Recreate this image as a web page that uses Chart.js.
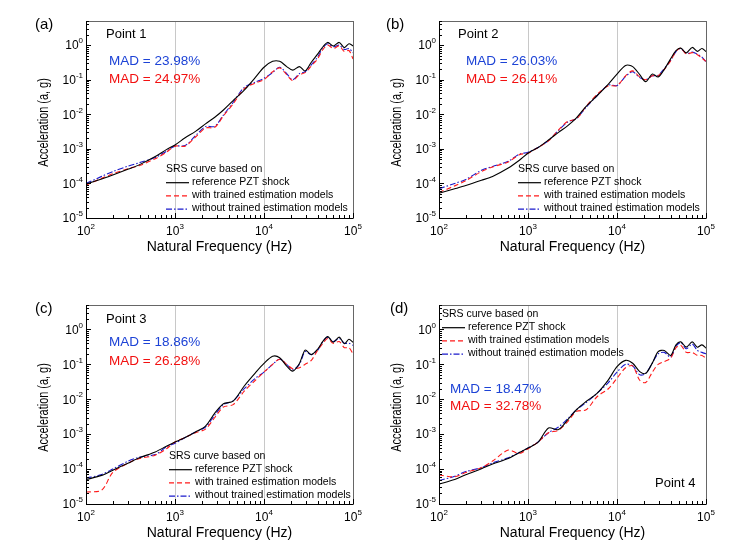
<!DOCTYPE html>
<html>
<head>
<meta charset="utf-8">
<script src="https://cdn.jsdelivr.net/npm/chart.js@4.4.1/dist/chart.umd.min.js"></script>
<style>
  body { margin: 0; background: #fff; }
  #wrap { position: relative; width: 733px; height: 552px; background: #fff; }
  #wrap canvas { position: absolute; }
</style>
</head>
<body>
<div id="wrap">
  <canvas id="panelA" width="366" height="276" style="left:0;top:0"></canvas>
  <canvas id="panelB" width="366" height="276" style="left:367px;top:0"></canvas>
  <canvas id="panelC" width="366" height="276" style="left:0;top:276px"></canvas>
  <canvas id="panelD" width="366" height="276" style="left:367px;top:276px"></canvas>
</div>
<script>
// --- data ---
const freqHz = [100, 150, 200, 300, 400, 600, 800, 1000, 1300, 1700, 2200, 2800, 3500, 4500, 6000, 8000,
                10000, 12500, 15000, 18000, 21000, 25000, 29000, 34000, 40000, 46000, 52000, 60000, 70000, 80000, 90000, 100000];

const seriesLabels = ['reference PZT shock', 'with trained estimation models', 'without trained estimation models'];
const legendTitle = 'SRS curve based on';
const xTickExp = [2, 3, 4, 5];
const yTickExp = [-5, -4, -3, -2, -1, 0];

const refP1 = [9.5e-5, 1.35e-4, 1.75e-4, 2.6e-4, 3.5e-4, 6e-4, 9.5e-4, 1.3e-3, 2.1e-3, 3.2e-3, 5.3e-3, 8.2e-3, 1.33e-2, 2.5e-2, 5e-2, 0.117,
               0.23, 0.34, 0.34, 0.24, 0.19, 0.24, 0.18, 0.32, 0.55, 0.9, 1.2, 0.95, 1.2, 0.85, 1.1, 0.95];
const withP1 = [9e-5, 1.4e-4, 1.9e-4, 2.7e-4, 3.3e-4, 5.2e-4, 8e-4, 1.2e-3, 1.2e-3, 2.2e-3, 4e-3, 4.2e-3, 9e-3, 2e-2, 5.5e-2, 8e-2,
                0.1, 0.17, 0.22, 0.14, 0.095, 0.14, 0.16, 0.25, 0.4, 0.75, 1.0, 0.8, 0.95, 0.65, 0.7, 0.4];
const withoutP1 = [1e-4, 1.6e-4, 2.2e-4, 3.2e-4, 4e-4, 5.6e-4, 8.5e-4, 1.2e-3, 1.25e-3, 2.4e-3, 4.4e-3, 4.5e-3, 9.5e-3, 2.2e-2, 6e-2, 8.5e-2,
                   0.11, 0.16, 0.23, 0.15, 0.1, 0.15, 0.17, 0.27, 0.45, 0.85, 1.1, 0.9, 1.0, 0.75, 0.8, 0.6];

const refP2 = [5.2e-5, 7e-5, 8.7e-5, 1.23e-4, 1.6e-4, 2.8e-4, 4.7e-4, 7.5e-4, 1.1e-3, 1.8e-3, 3e-3, 4.7e-3, 7.9e-3, 1.7e-2, 3.5e-2, 7.5e-2,
               0.146, 0.26, 0.24, 0.14, 0.088, 0.146, 0.12, 0.2, 0.4, 0.69, 0.82, 0.6, 0.86, 0.66, 0.8, 0.65];
const withP2 = [5.5e-5, 8.5e-5, 1.2e-4, 2.2e-4, 3e-4, 4.2e-4, 6.8e-4, 7.5e-4, 1.1e-3, 1.7e-3, 3.5e-3, 6.3e-3, 7.3e-3, 1.7e-2, 3.8e-2, 6.7e-2,
                6.7e-2, 0.13, 0.18, 0.12, 0.1, 0.13, 0.13, 0.2, 0.35, 0.66, 0.82, 0.55, 0.61, 0.53, 0.42, 0.34];
const withoutP2 = [7e-5, 1e-4, 1.3e-4, 2.4e-4, 3.1e-4, 4.4e-4, 7e-4, 8e-4, 1.1e-3, 1.75e-3, 3.4e-3, 6e-3, 7.5e-3, 1.6e-2, 3.5e-2, 7e-2,
                   6.8e-2, 0.125, 0.17, 0.115, 0.1, 0.13, 0.135, 0.21, 0.36, 0.65, 0.8, 0.57, 0.63, 0.55, 0.45, 0.33];

const refP3 = [5e-5, 6.6e-5, 9.3e-5, 1.5e-4, 2.1e-4, 3.1e-4, 4.5e-4, 6e-4, 8e-4, 1.15e-3, 1.7e-3, 4e-3, 7.4e-3, 8.8e-3, 2.4e-2, 5.7e-2,
               0.106, 0.17, 0.155, 0.089, 0.064, 0.106, 0.255, 0.19, 0.27, 0.46, 0.62, 0.43, 0.6, 0.39, 0.52, 0.43];
const withP3 = [2.2e-5, 2.5e-5, 8e-5, 1.5e-4, 2e-4, 2.5e-4, 3.8e-4, 6e-4, 8e-4, 1.1e-3, 1.4e-3, 3e-3, 6e-3, 7e-3, 1.7e-2, 3.5e-2,
                6e-2, 0.1, 0.14, 0.1, 0.075, 0.08, 0.1, 0.13, 0.25, 0.4, 0.55, 0.4, 0.45, 0.3, 0.3, 0.2];
const withoutP3 = [5.5e-5, 7e-5, 1e-4, 1.7e-4, 2.2e-4, 2.6e-4, 4.3e-4, 5.5e-4, 8e-4, 1.15e-3, 1.6e-3, 3.5e-3, 7e-3, 9e-3, 2e-2, 4e-2,
                   6e-2, 0.1, 0.14, 0.1, 0.07, 0.1, 0.23, 0.19, 0.25, 0.45, 0.6, 0.45, 0.55, 0.4, 0.4, 0.35];

const refP4 = [3.7e-5, 5e-5, 6.9e-5, 1.02e-4, 1.4e-4, 2e-4, 3e-4, 4e-4, 5.9e-4, 1.5e-3, 1.35e-3, 2.6e-3, 5e-3, 8.6e-3, 1.5e-2, 3.6e-2,
               8.6e-2, 0.13, 0.107, 0.062, 0.055, 0.11, 0.23, 0.25, 0.18, 0.36, 0.44, 0.31, 0.44, 0.31, 0.36, 0.29];
const withP4 = [6.8e-5, 6e-5, 8e-5, 1.1e-4, 1.7e-4, 3.5e-4, 2.8e-4, 3.8e-4, 6e-4, 1.1e-3, 1.3e-3, 2.3e-3, 4.5e-3, 5e-3, 1.2e-2, 2e-2,
                4e-2, 8e-2, 9e-2, 3.5e-2, 3e-2, 6e-2, 0.1, 0.12, 0.15, 0.3, 0.35, 0.22, 0.22, 0.18, 0.18, 0.15];
const withoutP4 = [4.7e-5, 6.2e-5, 8.5e-5, 1.1e-4, 1.5e-4, 2.1e-4, 3e-4, 4e-4, 6e-4, 1.1e-3, 1.6e-3, 2.8e-3, 5e-3, 8e-3, 1.5e-2, 3e-2,
                   6e-2, 0.1, 0.09, 0.05, 0.055, 0.11, 0.2, 0.22, 0.16, 0.33, 0.42, 0.28, 0.38, 0.25, 0.22, 0.2];

const madWith = ['23.98', '26.03', '18.86', '18.47'];
const madWithout = ['24.97', '26.41', '26.28', '32.78'];

// --- drawing helpers ---
const FONT = "'Liberation Sans', Arial, sans-serif";

function drawPow(ctx, exp, x, y, align) {
    ctx.font = '12px ' + FONT;
    const wb = ctx.measureText('10').width;
    ctx.font = '8px ' + FONT;
    const we = ctx.measureText(String(exp)).width;
    const x0 = align === 'right' ? x - wb - we : x - (wb + we) / 2;
    ctx.textAlign = 'left';
    ctx.textBaseline = 'middle';
    ctx.font = '12px ' + FONT;
    ctx.fillText('10', x0, y);
    ctx.font = '8px ' + FONT;
    ctx.fillText(String(exp), x0 + wb, y - 5);
}

function makePanel(canvasId, p) {
    const mk = (label, values, color, dash) => ({
        label: label,
        data: freqHz.map((f, i) => ({ x: f, y: values[i] })),
        borderColor: color, borderWidth: 1.1, borderDash: dash,
        pointRadius: 0, tension: 0.3, fill: false
    });

    const decor = {
        id: 'srsDecor',
        beforeDatasetsDraw(chart) {
            const ctx = chart.ctx, a = chart.chartArea, xs = chart.scales.x;
            ctx.save();
            ctx.strokeStyle = '#c8c8c8';
            ctx.lineWidth = 1;
            [1e3, 1e4].forEach(v => {
                const px = Math.round(xs.getPixelForValue(v)) + 0.5;
                ctx.beginPath(); ctx.moveTo(px, a.top); ctx.lineTo(px, a.bottom); ctx.stroke();
            });
            ctx.restore();
        },
        afterDraw(chart) {
            const ctx = chart.ctx, a = chart.chartArea, xs = chart.scales.x, ys = chart.scales.y;
            ctx.save();
            ctx.fillStyle = '#000';

            // frame
            ctx.lineWidth = 1;
            ctx.strokeStyle = '#666';
            ctx.strokeRect(a.left + 0.5, a.top + 0.5, a.right - a.left, a.bottom - a.top);
            ctx.strokeStyle = '#000';
            ctx.beginPath();
            ctx.moveTo(a.left + 0.5, a.top); ctx.lineTo(a.left + 0.5, a.bottom + 0.5); ctx.lineTo(a.right, a.bottom + 0.5);
            ctx.stroke();

            // inward ticks, log minors
            ctx.beginPath();
            xTickExp.forEach(e => {
                for (let k = 1; k < 10; k++) {
                    const v = k * Math.pow(10, e);
                    if (v > 1e5 * 1.0001) break;
                    const px = Math.round(xs.getPixelForValue(v)) + 0.5;
                    ctx.moveTo(px, a.bottom); ctx.lineTo(px, a.bottom - (k === 1 ? 5 : 3));
                }
            });
            yTickExp.forEach(e => {
                for (let k = 1; k < 10; k++) {
                    const v = k * Math.pow(10, e);
                    if (v > ys.max) break;
                    const py = Math.round(ys.getPixelForValue(v)) + 0.5;
                    ctx.moveTo(a.left, py); ctx.lineTo(a.left + (k === 1 ? 5 : 3), py);
                }
            });
            ctx.stroke();

            // tick labels
            xTickExp.forEach(e => drawPow(ctx, e, xs.getPixelForValue(Math.pow(10, e)), a.bottom + 14, 'center'));
            yTickExp.forEach(e => drawPow(ctx, e, a.left - 3, ys.getPixelForValue(Math.pow(10, e)) + 1, 'right'));

            // axis titles
            ctx.font = '14px ' + FONT;
            ctx.textAlign = 'center';
            ctx.textBaseline = 'middle';
            ctx.fillText('Natural Frequency (Hz)', (a.left + a.right) / 2, a.bottom + 29);
            ctx.save();
            ctx.translate(a.left - 42, (a.top + a.bottom) / 2 + 3);
            ctx.rotate(-Math.PI / 2);
            ctx.scale(0.78, 1);
            ctx.fillText('Acceleration (a, g)', 0, 0);
            ctx.restore();

            // panel letter, point name, MAD
            ctx.textAlign = 'left';
            ctx.font = '15px ' + FONT;
            ctx.fillText(p.letter, p.letterAt[0], p.letterAt[1]);
            ctx.font = '13px ' + FONT;
            ctx.fillText(p.point, p.pointAt[0], p.pointAt[1]);
            ctx.font = '13.5px ' + FONT;
            ctx.fillStyle = '#1d43d6';
            ctx.fillText('MAD = ' + madWith[p.idx] + '%', p.madAt[0], p.madAt[1]);
            ctx.fillStyle = '#f21010';
            ctx.fillText('MAD = ' + madWithout[p.idx] + '%', p.madAt[0], p.madAt[1] + p.madGap);

            // legend
            const lx = p.legendAt[0], ly = p.legendAt[1];
            ctx.font = '10.5px ' + FONT;
            ctx.fillStyle = '#000';
            ctx.fillText(legendTitle, lx, ly);
            chart.data.datasets.forEach((ds, i) => {
                const ry = ly + 13.2 * (i + 1);
                ctx.save();
                ctx.strokeStyle = ds.borderColor;
                ctx.lineWidth = 1.2;
                ctx.setLineDash(ds.borderDash);
                ctx.beginPath(); ctx.moveTo(lx, ry + 0.5); ctx.lineTo(lx + 23, ry + 0.5); ctx.stroke();
                ctx.restore();
                ctx.fillText(ds.label, lx + 26, ry);
            });
            ctx.restore();
        }
    };

    return new Chart(document.getElementById(canvasId).getContext('2d'), {
        type: 'line',
        data: {
            datasets: [
                mk(seriesLabels[0], p.ref, '#000000', []),
                mk(seriesLabels[1], p.with, '#ff1a1a', [5, 3]),
                mk(seriesLabels[2], p.without, '#1a1acc', [6, 2, 1.5, 2])
            ]
        },
        options: {
            responsive: false, animation: false, events: [],
            layout: { padding: p.pad },
            plugins: { legend: { display: false }, tooltip: { enabled: false } },
            scales: {
                x: { type: 'logarithmic', min: 100, max: 1e5, display: false },
                y: { type: 'logarithmic', min: 1e-5, max: 5, display: false }
            }
        },
        plugins: [decor]
    });
}

// panel layouts (canvas-local coordinates)
makePanel('panelA', { idx: 0, letter: '(a)', point: 'Point 1', ref: refP1, with: withP1, without: withoutP1,
    pad: { left: 86, top: 21, right: 13, bottom: 58 },
    letterAt: [35, 25], pointAt: [106, 34], madAt: [109, 61], madGap: 18, legendAt: [166, 169] });
makePanel('panelB', { idx: 1, letter: '(b)', point: 'Point 2', ref: refP2, with: withP2, without: withoutP2,
    pad: { left: 72, top: 21, right: 27, bottom: 58 },
    letterAt: [19, 25], pointAt: [91, 34], madAt: [99, 61], madGap: 18, legendAt: [151, 169] });
makePanel('panelC', { idx: 2, letter: '(c)', point: 'Point 3', ref: refP3, with: withP3, without: withoutP3,
    pad: { left: 86, top: 29, right: 13, bottom: 48 },
    letterAt: [35, 33], pointAt: [106, 43], madAt: [109, 66], madGap: 19, legendAt: [169, 180] });
makePanel('panelD', { idx: 3, letter: '(d)', point: 'Point 4', ref: refP4, with: withP4, without: withoutP4,
    pad: { left: 72, top: 29, right: 27, bottom: 48 },
    letterAt: [23, 33], pointAt: [288, 207], madAt: [83, 113], madGap: 17, legendAt: [75, 38] });
</script>
</body>
</html>
